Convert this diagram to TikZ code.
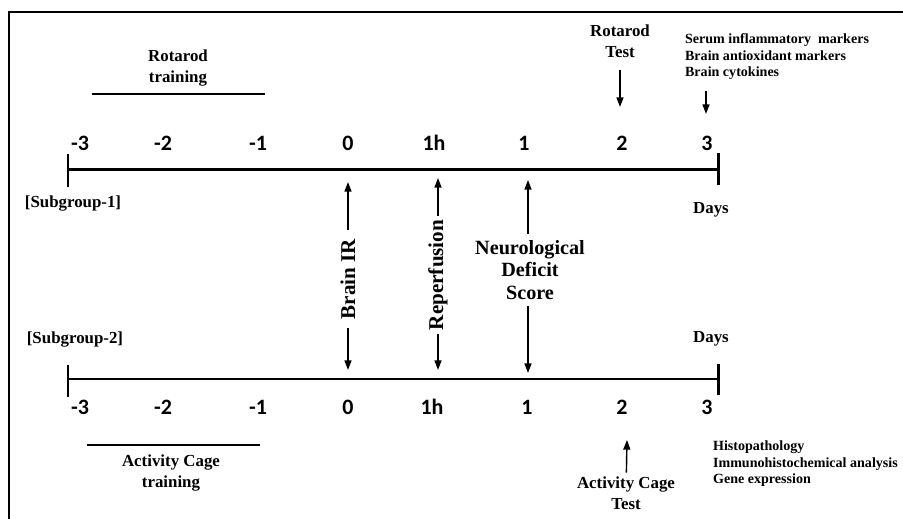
\documentclass[tikz,border=0pt]{standalone}
\usepackage{fontspec}
\setmainfont{Liberation Serif}
\newfontfamily\numfont{Carlito}
\usetikzlibrary{arrows.meta}

\begin{document}
\begin{tikzpicture}[x=0.02cm,y=-0.02cm]
\tikzset{
  lbl/.style={font=\rmfamily\bfseries\fontsize{9.6}{12}\selectfont,align=center,inner sep=1pt},
  biglbl/.style={font=\rmfamily\bfseries\fontsize{12}{13}\selectfont,align=center,inner sep=1pt},
  smalllbl/.style={font=\rmfamily\bfseries\fontsize{8}{9.4}\selectfont,align=left,inner sep=1pt},
  num/.style={font=\numfont\bfseries\fontsize{12.5}{14}\selectfont,inner sep=1pt},
  timeline/.style={line width=1.7pt},
  arr/.style={-{Triangle[length=5.5pt,width=4pt]},line width=0.8pt}
}
\useasboundingbox (0,0) rectangle (903,519);
\draw[line width=1.1pt] (9,530) -- (9,12) -- (915,12);

% the two time lines
\coordinate (s1) at (68,170);
\coordinate (e1) at (718,170);
\coordinate (s2) at (68,379);
\coordinate (e2) at (718,379);
\draw[timeline] (s1) -- (e1);
\draw[timeline] (s2) -- (e2);
\draw[timeline] (68,154) -- (68,187);
\draw[timeline] (718,153) -- (718,185);
\draw[timeline] (68,365) -- (68,397);
\draw[timeline] (718,364) -- (718,395);

\foreach \x/\t [count=\i] in {80/-3,163/-2,258/-1,348/0,434/1h,524/1,622/2,707/3}
  \node (a\i) at (\x,143) [num] {\t};
\foreach \x/\t [count=\i] in {80/-3,163/-2,258/-1,348/0,432/1h,527/1,622/2,707/3}
  \node (b\i) at (\x,407) [num] {\t};

\node (sg1) at (73,204) [lbl] {[Subgroup-1]};
\node (sg2) at (75,340) [lbl] {[Subgroup-2]};
\node (days1) at (711,210) [lbl] {Days};
\node (days2) at (711,339) [lbl] {Days};

% training periods
\node (rtr) at (178,68) [lbl] {Rotarod\\training};
\draw[line width=0.8pt] (92,94) -- (265,94);
\node (actr) at (171,473) [lbl] {Activity Cage\\training};
\draw[line width=0.8pt] (87,445) -- (260,445);

% events between the lines
\node (bir) at (348,279) [biglbl,rotate=90,inner sep=5pt] {Brain IR};
\node (rep) at (438,275) [biglbl,rotate=90,inner sep=2pt] {Reperfusion};
\node (nds) at (530,270) [biglbl,font=\rmfamily\bfseries\fontsize{11.5}{13}\selectfont,inner sep=3pt] {Neurological\\Deficit\\Score};
\coordinate (bir1) at (348,182);
\coordinate (bir2) at (348,370);
\coordinate (rep1) at (438,178);
\coordinate (rep2) at (438,370);
\coordinate (nds1) at (528,180);
\coordinate (nds2) at (528,373);

\path
(bir) edge [arr] (bir1)
(bir) edge [arr] (bir2)
(rep) edge [arr] (rep1)
(rep) edge [arr] (rep2)
(nds.north -| nds1) edge [arr] (nds1)
(nds.south -| nds2) edge [arr] (nds2);

% tests and analyses
\node (rtest) at (620,41) [lbl] {Rotarod\\Test};
\coordinate (rt) at (620,107);
\node (serum) at (683,57) [smalllbl,anchor=west] {Serum inflammatory\ \ markers\\Brain antioxidant markers\\Brain cytokines};
\coordinate (t3) at (706,114);
\node (actest) at (626,493) [lbl] {Activity Cage\\Test};
\coordinate (at) at (627,440);
\node (histo) at (711,464) [smalllbl,anchor=west] {Histopathology\\Immunohistochemical analysis\\Gene expression};

\path
(rtest) edge [arr, shorten <=6pt] (rt)
(serum.south -| t3) edge [arr, shorten <=5pt] (t3)
(actest) edge [arr, shorten <=1pt] (at);
\end{tikzpicture}
\end{document}
